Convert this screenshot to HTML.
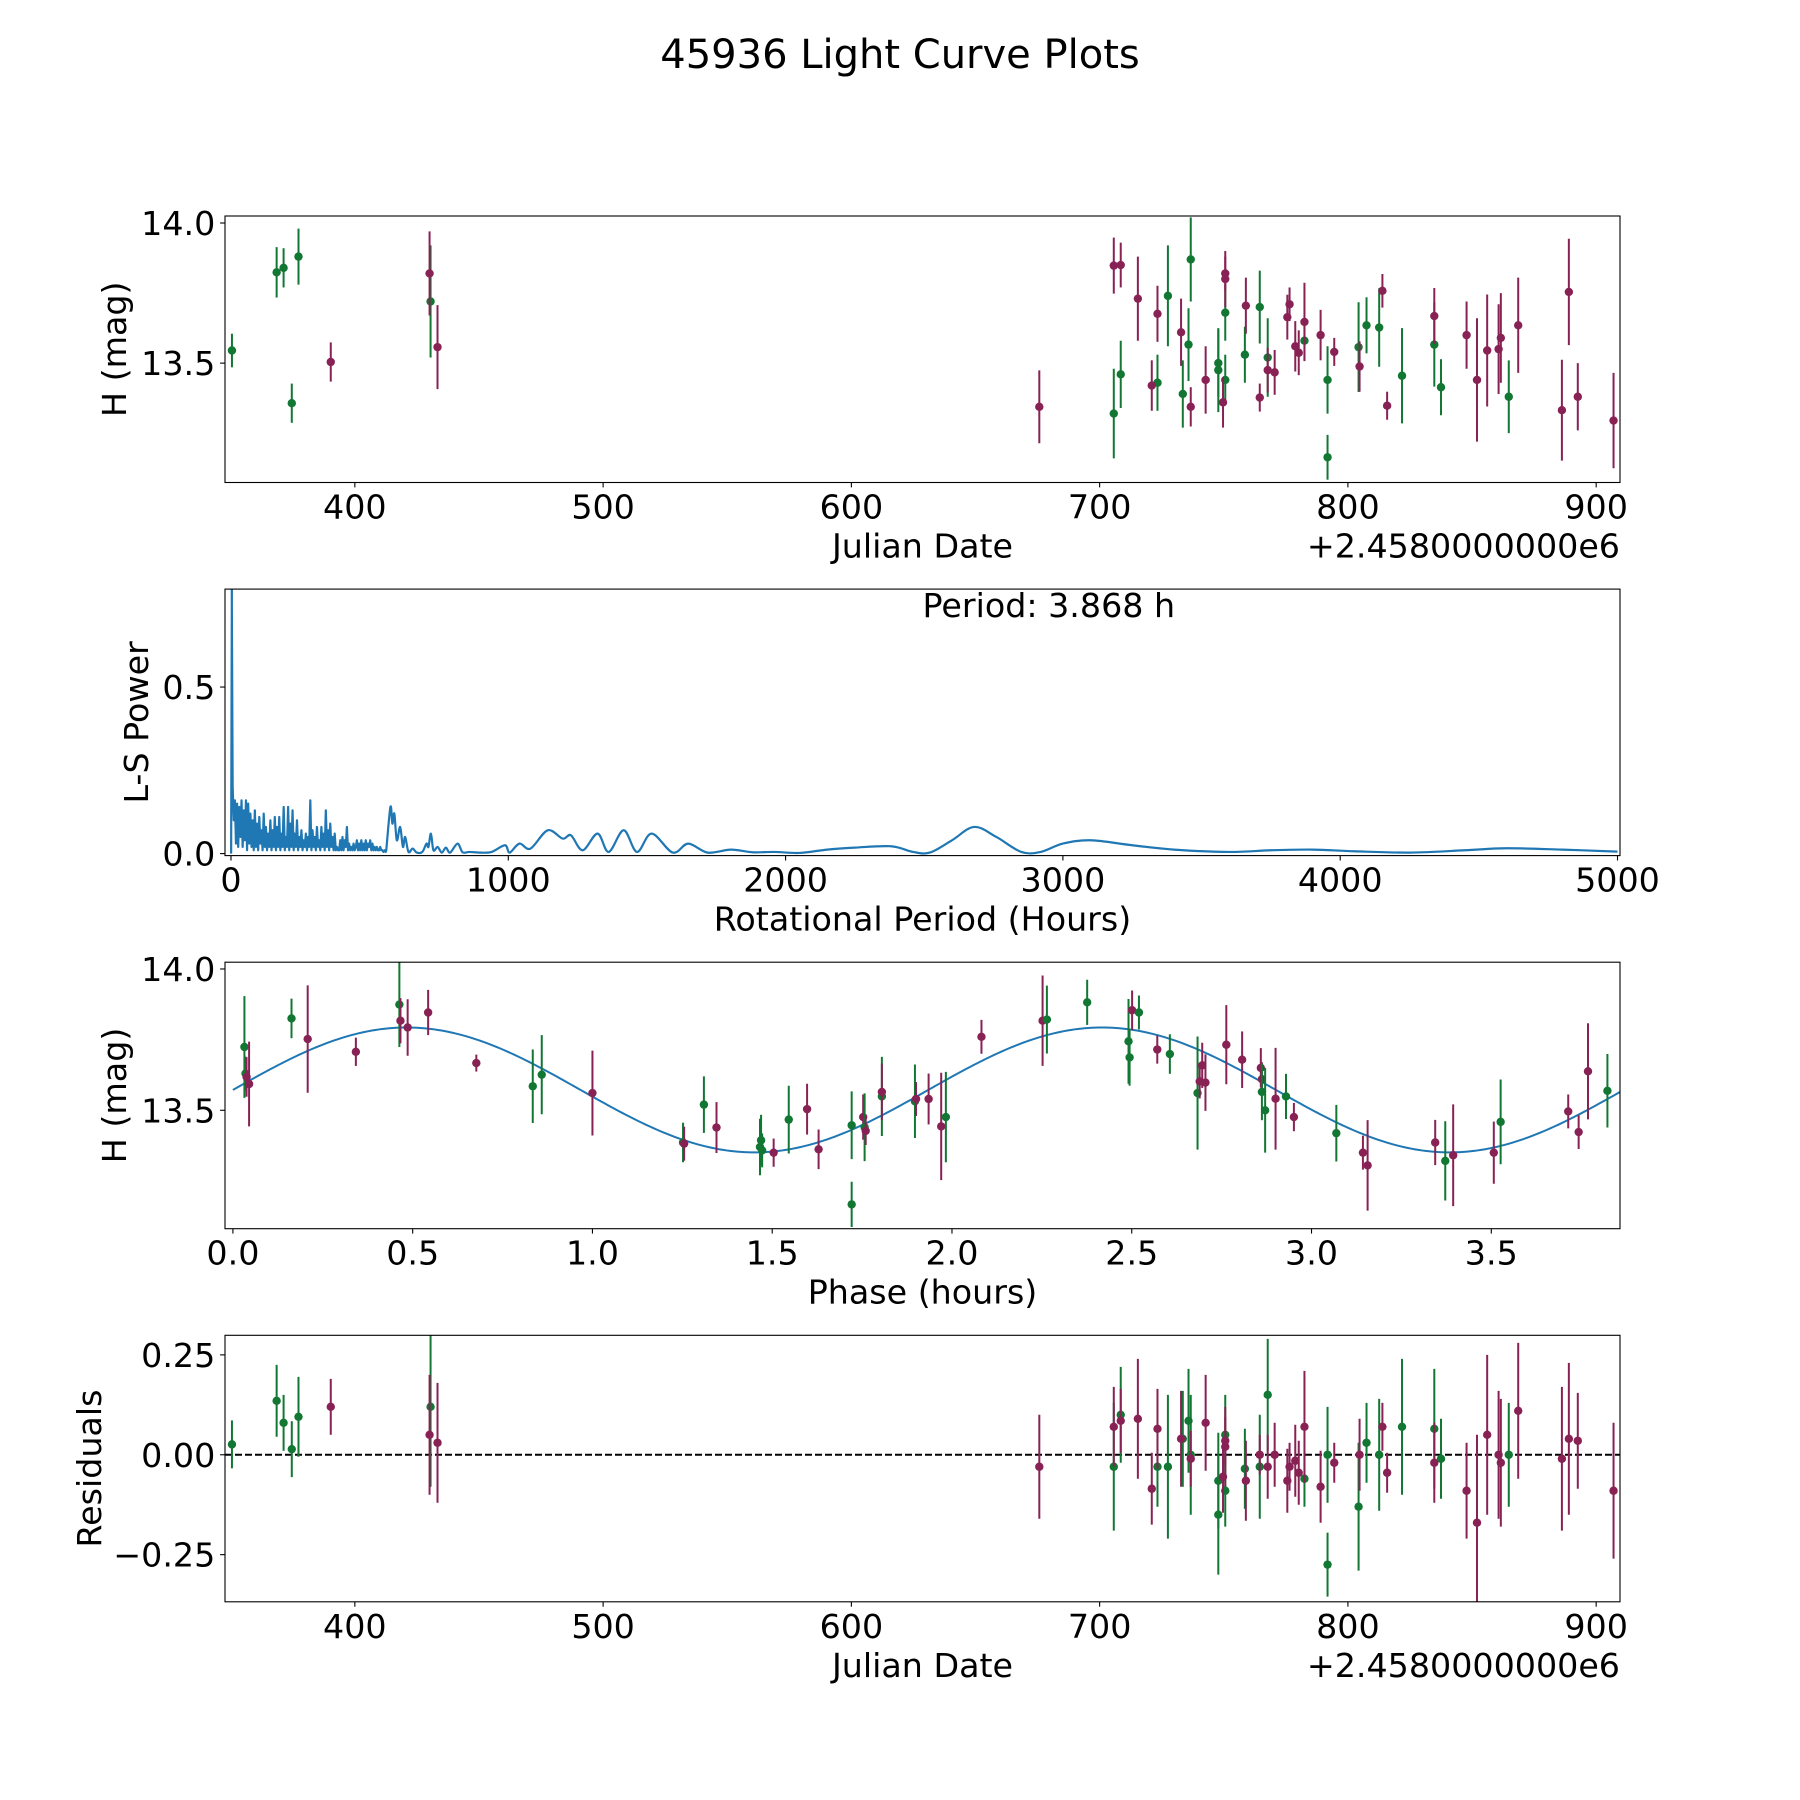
<!DOCTYPE html>
<html><head><meta charset="utf-8"><style>
html,body{margin:0;padding:0;background:#fff;}
svg{display:block;font-family:"DejaVu Sans","Liberation Sans",sans-serif;}
</style></head>
<body>
<svg id="fig" width="1800" height="1800" viewBox="0 0 1800 1800" xmlns="http://www.w3.org/2000/svg">
<rect width="1800" height="1800" fill="#fff"/>
<text x="900" y="68" font-size="40" text-anchor="middle">45936 Light Curve Plots</text>
</svg>
<script>
// ---------- DATA ----------
const greenJD  = [350.5,368.5,371.3,374.6,377.3,430.5,705.7,708.5,723.3,727.5,733.5,735.8,736.7,747.8,747.8,750.6,750.6,758.5,764.5,767.7,782.5,791.8,791.8,804.3,807.5,812.6,821.8,834.8,837.5,864.8];
const greenMag = [13.545,13.824,13.84,13.357,13.88,13.72,13.32,13.46,13.43,13.74,13.39,13.566,13.87,13.5,13.475,13.68,13.44,13.53,13.70,13.52,13.58,13.164,13.44,13.557,13.635,13.627,13.455,13.566,13.414,13.38];
const greenErr = [0.06,0.09,0.07,0.07,0.10,0.20,0.16,0.12,0.10,0.18,0.12,0.13,0.15,0.12,0.15,0.10,0.09,0.10,0.13,0.14,0.07,0.08,0.12,0.16,0.10,0.14,0.17,0.15,0.10,0.13];
const greenRes = [0.026,0.135,0.08,0.014,0.095,0.12,-0.03,0.1,-0.03,-0.03,0.04,0.085,0.0,-0.065,-0.15,0.05,-0.09,-0.035,-0.03,0.15,-0.06,-0.275,0.0,-0.13,0.03,0.0,0.07,0.065,-0.01,0.0];

const purpleJD  = [390.3,430.1,433.3,675.7,705.7,708.5,715.4,721.0,723.3,732.8,736.7,742.7,749.7,750.6,750.6,758.9,764.5,767.7,770.5,775.6,776.5,778.8,780.2,782.5,789.0,794.5,804.7,813.9,815.8,834.8,847.8,852.0,856.1,860.7,861.6,868.6,886.2,889.0,892.6,907.0];
const purpleMag = [13.504,13.82,13.557,13.344,13.848,13.85,13.73,13.42,13.676,13.61,13.344,13.44,13.36,13.80,13.82,13.705,13.377,13.475,13.467,13.664,13.71,13.56,13.537,13.647,13.6,13.54,13.488,13.758,13.348,13.668,13.6,13.44,13.545,13.55,13.59,13.635,13.332,13.754,13.38,13.295];
const purpleErr = [0.07,0.15,0.15,0.13,0.10,0.08,0.15,0.09,0.10,0.12,0.07,0.12,0.09,0.10,0.06,0.10,0.05,0.08,0.08,0.08,0.06,0.09,0.08,0.14,0.09,0.05,0.09,0.06,0.05,0.10,0.12,0.22,0.20,0.16,0.16,0.17,0.18,0.19,0.12,0.17];
const purpleRes = [0.12,0.05,0.03,-0.03,0.07,0.085,0.09,-0.085,0.065,0.04,-0.01,0.08,-0.055,0.02,0.035,-0.065,0.0,-0.03,0.0,-0.065,-0.03,-0.015,-0.045,0.07,-0.08,-0.02,0.0,0.07,-0.045,-0.02,-0.09,-0.17,0.05,0.0,-0.02,0.11,-0.01,0.04,0.035,-0.09];

const phaseVals = [0.032,0.035,0.038,0.045,0.163,0.208,0.342,0.463,0.466,0.486,0.543,0.677,0.834,0.859,1.0,1.252,1.255,1.31,1.345,1.466,1.469,1.472,1.504,1.546,1.597,1.629,1.721,1.721,1.753,1.757,1.76,1.805,1.805,1.897,1.9,1.935,1.97,1.983,2.082,2.252,2.264,2.376,2.491,2.494,2.501,2.52,2.571,2.606,2.683,2.689,2.696,2.705,2.763,2.807,2.859,2.862,2.862,2.871,2.9,2.929,2.951,3.069,3.143,3.156,3.344,3.372,3.394,3.507,3.526,3.714,3.743,3.769,3.823];
const phaseMag  = [13.724,13.63,13.618,13.593,13.825,13.752,13.707,13.874,13.817,13.793,13.846,13.667,13.585,13.626,13.561,13.386,13.382,13.52,13.439,13.37,13.394,13.358,13.35,13.467,13.504,13.362,13.167,13.447,13.476,13.44,13.427,13.549,13.565,13.532,13.54,13.54,13.443,13.476,13.76,13.817,13.821,13.882,13.744,13.687,13.854,13.846,13.715,13.699,13.561,13.602,13.659,13.598,13.732,13.679,13.650,13.61,13.565,13.5,13.541,13.549,13.476,13.419,13.35,13.305,13.386,13.321,13.341,13.35,13.459,13.496,13.423,13.638,13.569];
const phaseErr  = [0.18,0.06,0.07,0.15,0.07,0.19,0.05,0.15,0.08,0.10,0.08,0.03,0.13,0.14,0.15,0.07,0.06,0.10,0.09,0.10,0.09,0.06,0.05,0.12,0.09,0.07,0.08,0.12,0.08,0.12,0.05,0.14,0.10,0.13,0.06,0.09,0.19,0.16,0.06,0.16,0.12,0.08,0.15,0.10,0.07,0.06,0.05,0.07,0.20,0.06,0.08,0.10,0.14,0.10,0.07,0.06,0.10,0.15,0.18,0.08,0.05,0.10,0.06,0.16,0.08,0.14,0.18,0.11,0.15,0.06,0.06,0.17,0.13];
const phaseColor= ['g','g','p','p','g','p','p','g','p','p','p','p','g','g','p','g','p','g','p','g','g','g','p','g','p','p','g','g','p','g','p','g','p','g','p','p','p','g','p','p','g','g','g','g','p','g','p','g','g','p','p','p','p','p','p','p','g','g','p','g','p','g','p','p','p','g','p','p','g','p','p','p','g'];

const modelMean = 13.572, modelAmp = 0.221, rotPeriod = 3.868;

const noiseStart = 2, noiseStep = 4;
const noisePower = [0.95,0.20,0.10,0.16,0.03,0.15,0.02,0.14,0.05,0.16,
0.02,0.13,0.04,0.16,0.01,0.15,0.03,0.12,0.02,0.10,
0.01,0.13,0.02,0.09,0.01,0.11,0.03,0.07,0.01,0.12,
0.02,0.08,0.01,0.06,0.02,0.10,0.01,0.07,0.02,0.11,
0.01,0.08,0.02,0.11,0.01,0.06,0.02,0.14,0.01,0.05,
0.02,0.14,0.01,0.09,0.02,0.13,0.01,0.06,0.02,0.10,
0.01,0.05,0.02,0.07,0.01,0.04,0.02,0.06,0.01,0.05,
0.02,0.16,0.01,0.07,0.02,0.05,0.01,0.08,0.02,0.04,
0.01,0.08,0.02,0.06,0.01,0.13,0.02,0.07,0.01,0.09,
0.02,0.05,0.01,0.06,0.01,0.02,0.01,0.01,0.04,0.01,
0.05,0.01,0.04,0.02,0.08,0.01,0.03,0.01,0.02,0.01,
0.03,0.01,0.02,0.04,0.01,0.03,0.01,0.04,0.01,0.03,
0.01,0.04,0.01,0.03,0.02,0.04,0.01,0.03,0.01,0.02,
0.01,0.02,0.01,0.01,0.02,0.01,0.01,0.005,0.01,0.005];
const smoothPeriod = [560,575,582,589,598,610,620,628,640,655,670,690,705,712,721,730,745,760,775,790,817,835,860,900,940,988,1005,1040,1080,1142,1196,1226,1268,1322,1362,1416,1464,1517,1593,1649,1719,1803,1880,1960,2050,2150,2250,2380,2460,2520,2600,2680,2760,2850,2920,3000,3100,3250,3400,3600,3750,3900,4050,4250,4450,4600,4800,5000];
const smoothPower  = [0.01,0.14,0.09,0.12,0.04,0.08,0.02,0.05,0.005,0.015,0.003,0.005,0.03,0.02,0.06,0.01,0.02,0.003,0.018,0.003,0.03,0.004,0.005,0.003,0.005,0.025,0.003,0.03,0.015,0.07,0.045,0.055,0.01,0.06,0.005,0.07,0.005,0.06,0.003,0.03,0.003,0.012,0.004,0.005,0.002,0.012,0.018,0.022,0.005,0.003,0.04,0.08,0.05,0.005,0.005,0.03,0.04,0.025,0.012,0.005,0.01,0.012,0.007,0.003,0.01,0.016,0.012,0.006];

const jdTicks = [400,500,600,700,800,900];
const magTicks = [14.0,13.5];
const magTickLabels = ['14.0','13.5'];
const perTicks = [0,1000,2000,3000,4000,5000];
const powTicks = [0,0.5];
const powTickLabels = ['0.0','0.5'];
const phTicks = [0,0.5,1,1.5,2,2.5,3,3.5];
const phTickLabels = ['0.0','0.5','1.0','1.5','2.0','2.5','3.0','3.5'];
const resTicks = [0.25,0,-0.25];
const resTickLabels = ['0.25','0.00','\u22120.25'];

// ---------- LAYOUT ----------
const NS = 'http://www.w3.org/2000/svg';
const svg = document.getElementById('fig');
const L = 225, R = 1620, H = 266.5, FS = 33.3;
const tops = [216, 589.1, 962.2, 1335.3];
const GREEN = '#117733', PURPLE = '#882255', BLUE = '#1f77b4';

function el(tag, attrs, parent) {
  const e = document.createElementNS(NS, tag);
  for (const k in attrs) e.setAttribute(k, attrs[k]);
  (parent || svg).appendChild(e);
  return e;
}
function lin(d0, d1, p0, p1) { return v => p0 + (v - d0) * (p1 - p0) / (d1 - d0); }

function axes(i, xlim, ylim, name) {
  const top = tops[i], bot = top + H;
  const g = el('g', {});
  
  
  const sx = lin(xlim[0], xlim[1], L, R);
  const sy = lin(ylim[0], ylim[1], bot, top);
  const cid = 'clip' + i;
  const cp = el('clipPath', { id: cid }, g);
  el('rect', { x: L, y: top, width: R - L, height: H }, cp);
  const plot = el('g', { 'clip-path': 'url(#' + cid + ')' }, g);
  return { g, plot, sx, sy, top, bot };
}
function frame(ax) {
  const r = el('rect', { x: L, y: ax.top, width: R - L, height: H, fill: 'none', stroke: '#000', 'stroke-width': 1.1 }, ax.g);
  
  
}
function xticks(ax, vals, labels) {
  vals.forEach((v, k) => {
    const x = ax.sx(v);
    el('line', { x1: x, x2: x, y1: ax.bot, y2: ax.bot + 4.9, stroke: '#000', 'stroke-width': 1.1 }, ax.g);
    const t = el('text', { x: x, y: ax.bot + 36, 'font-size': FS, 'text-anchor': 'middle' }, ax.g);
    
    
    t.textContent = labels ? labels[k] : String(v);
  });
}
function yticks(ax, vals, labels) {
  vals.forEach((v, k) => {
    const y = ax.sy(v);
    el('line', { x1: L - 4.9, x2: L, y1: y, y2: y, stroke: '#000', 'stroke-width': 1.1 }, ax.g);
    const t = el('text', { x: L - 9.7, y: y + 12, 'font-size': FS, 'text-anchor': 'end' }, ax.g);
    
    
    t.textContent = labels[k];
  });
}
function xlabel(ax, txt, name) {
  const t = el('text', { x: (L + R) / 2, y: ax.bot + 75, 'font-size': FS, 'text-anchor': 'middle' }, ax.g);
  
  
  t.textContent = txt;
}
function ylabel(ax, txt, x, name) {
  const cy = ax.top + H / 2;
  const t = el('text', { x: x, y: cy, 'font-size': FS, 'text-anchor': 'middle', transform: 'rotate(-90 ' + x + ' ' + cy + ')' }, ax.g);
  
  
  t.textContent = txt;
}
function offsetText(ax) {
  const t = el('text', { x: R, y: ax.bot + 75, 'font-size': FS, 'text-anchor': 'end' }, ax.g);
  
  
  t.textContent = '+2.4580000000e6';
}
function errpoint(ax, x, y, e, color, name) {
  const px = ax.sx(x);
  const ln = el('line', { x1: px, x2: px, y1: ax.sy(y - e), y2: ax.sy(y + e), stroke: color, 'stroke-width': 2 }, ax.plot);
  
  
  const c = el('circle', { cx: px, cy: ax.sy(y), r: 4.2, fill: color }, ax.plot);
  
  
}

// ---------- PANEL 1 : light curve ----------
const a1 = axes(0, [347.7, 909.6], [13.074, 14.025], 'light-curve-panel');
greenJD.forEach((x, k) => errpoint(a1, x, greenMag[k], greenErr[k], GREEN, 'green-point'));
purpleJD.forEach((x, k) => errpoint(a1, x, purpleMag[k], purpleErr[k], PURPLE, 'purple-point'));
frame(a1); xticks(a1, jdTicks); yticks(a1, magTicks, magTickLabels);
xlabel(a1, 'Julian Date', 'x-axis-title'); offsetText(a1); ylabel(a1, 'H (mag)', 126, 'y-axis-title');

// ---------- PANEL 2 : periodogram ----------
const a2 = axes(1, [-21.6, 5009], [-0.006, 0.794], 'periodogram-panel');
let pts = [];
noisePower.forEach((p, k) => pts.push([a2.sx(noiseStart + noiseStep * k), a2.sy(p)]));
let d = 'M' + a2.sx(0.5).toFixed(2) + ',' + a2.sy(0.0).toFixed(2) + ' L' + a2.sx(3.868).toFixed(2) + ',' + a2.sy(1.0).toFixed(2);
pts.forEach(p => { d += ' L' + p[0].toFixed(2) + ',' + p[1].toFixed(2); });
const sp = smoothPeriod.map((v, k) => [a2.sx(v), a2.sy(smoothPower[k])]);
for (let k = 0; k < sp.length - 1; k++) {
  const p0 = sp[Math.max(0, k - 1)], p1 = sp[k], p2 = sp[k + 1], p3 = sp[Math.min(sp.length - 1, k + 2)];
  const c1 = [p1[0] + (p2[0] - p0[0]) / 6, p1[1] + (p2[1] - p0[1]) / 6];
  const c2 = [p2[0] - (p3[0] - p1[0]) / 6, p2[1] - (p3[1] - p1[1]) / 6];
  if (k === 0) d += ' L' + p1[0].toFixed(2) + ',' + p1[1].toFixed(2);
  d += ' C' + c1[0].toFixed(2) + ',' + c1[1].toFixed(2) + ' ' + c2[0].toFixed(2) + ',' + c2[1].toFixed(2) + ' ' + p2[0].toFixed(2) + ',' + p2[1].toFixed(2);
}
const pl = el('path', { d: d, fill: 'none', stroke: BLUE, 'stroke-width': 2.2, 'stroke-linejoin': 'round' }, a2.plot);


frame(a2); xticks(a2, perTicks); yticks(a2, powTicks, powTickLabels);
xlabel(a2, 'Rotational Period (Hours)', 'x-axis-title'); ylabel(a2, 'L-S Power', 148, 'y-axis-title');
const pt = el('text', { x: 922.5, y: 617, 'font-size': FS }, a2.g);


pt.textContent = 'Period: ' + rotPeriod.toFixed(3) + ' h';

// ---------- PANEL 3 : phase folded ----------
const a3 = axes(2, [-0.022, 3.858], [13.081, 14.024], 'phase-folded-panel');
let md = '';
for (let k = 0; k <= 400; k++) {
  const ph = rotPeriod * k / 400;
  const m = modelMean + modelAmp * Math.sin(4 * Math.PI * ph / rotPeriod);
  md += (k ? ' L' : 'M') + a3.sx(ph).toFixed(2) + ',' + a3.sy(m).toFixed(2);
}
const ml = el('path', { d: md, fill: 'none', stroke: BLUE, 'stroke-width': 2 }, a3.plot);


phaseVals.forEach((x, k) => errpoint(a3, x, phaseMag[k], phaseErr[k], phaseColor[k] === 'g' ? GREEN : PURPLE, phaseColor[k] === 'g' ? 'green-point' : 'purple-point'));
frame(a3); xticks(a3, phTicks, phTickLabels); yticks(a3, magTicks, magTickLabels);
xlabel(a3, 'Phase (hours)', 'x-axis-title'); ylabel(a3, 'H (mag)', 126, 'y-axis-title');

// ---------- PANEL 4 : residuals ----------
const a4 = axes(3, [347.7, 909.6], [-0.368, 0.299], 'residuals-panel');
const zl = el('line', { x1: L, x2: R, y1: a4.sy(0), y2: a4.sy(0), stroke: '#000', 'stroke-width': 2, 'stroke-dasharray': '7,3' }, a4.plot);


greenJD.forEach((x, k) => errpoint(a4, x, greenRes[k], greenErr[k], GREEN, 'green-residual'));
purpleJD.forEach((x, k) => errpoint(a4, x, purpleRes[k], purpleErr[k], PURPLE, 'purple-residual'));
frame(a4); xticks(a4, jdTicks); yticks(a4, resTicks, resTickLabels);
xlabel(a4, 'Julian Date', 'x-axis-title'); offsetText(a4); ylabel(a4, 'Residuals', 101, 'y-axis-title');
</script>
</body></html>
